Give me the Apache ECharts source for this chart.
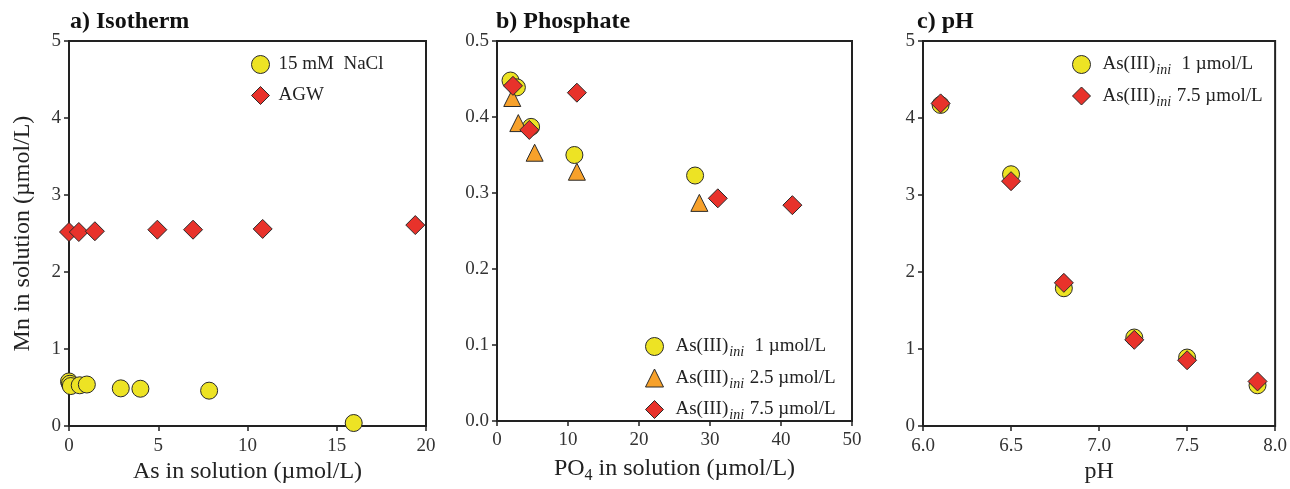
<!DOCTYPE html>
<html><head><meta charset="utf-8">
<script src="https://cdn.jsdelivr.net/npm/echarts@6/dist/echarts.min.js"></script>
<style>html,body{margin:0;padding:0;background:#fff}#c{width:1290px;height:489px}</style>
</head><body><div id="c"></div>
<script>
// Panel a: Isotherm
const isoNaClX = [0.0, 0.05, 0.1, 0.6, 1.0, 2.9, 4.0, 7.85, 15.95];
const isoNaClY = [0.58, 0.55, 0.52, 0.53, 0.54, 0.49, 0.485, 0.46, 0.04];
const isoAGWX = [0.0, 0.55, 1.45, 4.95, 6.95, 10.85, 19.4];
const isoAGWY = [2.52, 2.52, 2.53, 2.55, 2.55, 2.56, 2.61];
// Panel b: Phosphate
const phos1X = [1.9, 2.8, 4.8, 10.9, 27.9];
const phos1Y = [0.448, 0.439, 0.387, 0.350, 0.323];
const phos25X = [2.15, 3.0, 5.3, 11.25, 28.5];
const phos25Y = [0.425, 0.392, 0.353, 0.328, 0.287];
const phos75X = [2.25, 4.55, 11.25, 31.1, 41.6];
const phos75Y = [0.441, 0.383, 0.432, 0.293, 0.284];
// Panel c: pH
const pHX = [6.1, 6.5, 6.8, 7.2, 7.5, 7.9];
const pH1Y = [4.17, 3.27, 1.79, 1.15, 0.89, 0.53];
const pH75Y = [4.19, 3.18, 1.86, 1.12, 0.855, 0.58];

const names = {
  nacl: '15 mM  NaCl', agw: 'AGW',
  a1: 'As(III)ini  1 µmol/L', a25: 'As(III)ini 2.5 µmol/L', a75: 'As(III)ini 7.5 µmol/L'
};

const pts = (xs, ys) => xs.map((x, i) => [x, ys[i]]);
const FONT = 'Liberation Serif';
const DARK = '#222';
const YEL = '#EDE324', RED = '#E8322B', ORA = '#F7A12B';

const grids = [
  {left: 69, top: 41, width: 357, bottom: 58},
  {left: 497, top: 41, width: 355, bottom: 58},
  {left: 923, top: 41, width: 356, bottom: 58}
].map(g => Object.assign(g, {show: true, borderColor: DARK, borderWidth: 2, containLabel: false}));

function xAx(i, min, max, interval, name, fmt, nameRich) {
  return {
    type: 'value', gridIndex: i, min, max, interval,
    name, nameLocation: 'middle', nameGap: 33,
    nameTextStyle: Object.assign({fontFamily: FONT, fontSize: 24, color: DARK, verticalAlign: 'top'}, nameRich ? {rich: nameRich} : {}),
    axisLine: {show: true, lineStyle: {color: DARK, width: 2}},
    axisTick: {show: true, inside: false, length: 5, lineStyle: {color: DARK, width: 1.5}},
    axisLabel: {fontFamily: FONT, fontSize: 19, color: '#333', margin: 10, formatter: fmt},
    splitLine: {show: false}
  };
}
function yAx(i, min, max, interval, name, fmt) {
  return {
    type: 'value', gridIndex: i, min, max, interval,
    name, nameLocation: 'middle', nameGap: 34, nameRotate: 90,
    nameTextStyle: {fontFamily: FONT, fontSize: 24, color: DARK},
    axisLine: {show: true, lineStyle: {color: DARK, width: 2}},
    axisTick: {show: true, inside: false, length: 5, lineStyle: {color: DARK, width: 1.5}},
    axisLabel: {fontFamily: FONT, fontSize: 19, color: '#333', margin: 8, formatter: fmt},
    splitLine: {show: false}
  };
}
const f0 = v => String(v);
const f1 = v => v.toFixed(1);

function sc(name, xi, data, symbol, color, size) {
  return {
    type: 'scatter', name, xAxisIndex: xi, yAxisIndex: xi, data,
    symbol, symbolSize: size,
    itemStyle: {color, borderColor: '#2a2a2a', borderWidth: 1, opacity: 1},
    emphasis: {disabled: true}
  };
}

const legRich = {
  t: {fontFamily: FONT, fontSize: 19, color: DARK},
  s: {fontFamily: FONT, fontSize: 14, fontStyle: 'italic', color: DARK, padding: [12, 1, 0, 1]}
};
function legFmt(n) {
  if (n.indexOf('ini') < 0) return '{t|' + n + '}';
  const parts = n.split('ini');
  return '{t|' + parts[0] + '}{s|ini}{t|' + parts[1] + '}';
}
function legend(data, left, top, gap, padL) {
  return {
    data, left, top, orient: 'vertical', itemGap: gap, itemWidth: 18, itemHeight: 18, padding: 0,
    itemStyle: {borderWidth: 1, borderColor: '#2a2a2a'},
    formatter: legFmt, textStyle: {rich: legRich, fontFamily: FONT, fontSize: 19, color: DARK, padding: [0, 0, 0, padL]},
    selectedMode: false
  };
}

const option = {
  animation: false,
  backgroundColor: '#fff',
  title: [
    {text: 'a) Isotherm', left: 70, top: 10},
    {text: 'b) Phosphate', left: 496, top: 10},
    {text: 'c) pH', left: 917, top: 10}
  ].map(t => Object.assign(t, {padding: 0, textStyle: {fontFamily: FONT, fontSize: 24, fontWeight: 'bold', color: '#111'}})),
  grid: grids,
  xAxis: [
    xAx(0, 0, 20, 5, 'As in solution (µmol/L)', f0),
    xAx(1, 0, 50, 10, '{t|PO}{s|4}{t| in solution (µmol/L)}', f0, {
      t: {fontFamily: FONT, fontSize: 24, color: DARK},
      s: {fontFamily: FONT, fontSize: 16, color: DARK, padding: [14, 0, 0, 0]}
    }),
    xAx(2, 6, 8, 0.5, 'pH', f1)
  ],
  yAxis: [
    yAx(0, 0, 5, 1, 'Mn in solution (µmol/L)', f0),
    yAx(1, 0, 0.5, 0.1, '', f1),
    yAx(2, 0, 5, 1, '', f0)
  ],
  legend: [
    legend([names.nacl, names.agw], 251, 55, 12, 4),
    legend([names.a1, names.a25, names.a75], 645, 337, 9, 7),
    legend([{name: names.a1}, {name: names.a75}], 1072, 55, 9, 7)
  ],
  series: [
    sc(names.nacl, 0, pts(isoNaClX, isoNaClY), 'circle', YEL, 17),
    sc(names.agw, 0, pts(isoAGWX, isoAGWY), 'diamond', RED, 19),
    sc(names.a1, 1, pts(phos1X, phos1Y), 'circle', YEL, 17),
    sc(names.a25, 1, pts(phos25X, phos25Y), 'triangle', ORA, 17),
    sc(names.a75, 1, pts(phos75X, phos75Y), 'diamond', RED, 19),
    sc(names.a1, 2, pts(pHX, pH1Y), 'circle', YEL, 17),
    sc(names.a75, 2, pts(pHX, pH75Y), 'diamond', RED, 19)
  ]
};
const chart = echarts.init(document.getElementById('c'), null, {renderer: 'canvas'});
chart.setOption(option);
</script></body></html>
